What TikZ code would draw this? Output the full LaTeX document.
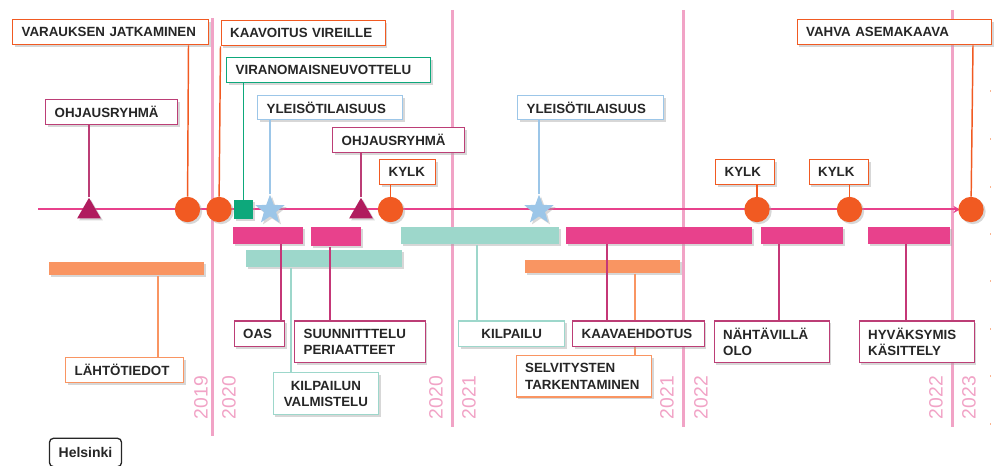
\documentclass[tikz,border=0pt]{standalone}
\usepackage{fontspec}
\setmainfont{Liberation Sans}
\usepackage{xcolor}
\usetikzlibrary{shapes.geometric,shadows,arrows.meta}

\definecolor{hOrange}{HTML}{F15A22}
\definecolor{hPeach}{HTML}{F99562}
\definecolor{hPink}{HTML}{E8418C}
\definecolor{hPlum}{HTML}{B01C5E}
\definecolor{hTeal}{HTML}{9DD7CB}
\definecolor{hGreen}{HTML}{0DA87B}
\definecolor{hBlue}{HTML}{9CC6E8}
\definecolor{hYear}{HTML}{F1A3C6}

\tikzset{
    softshadow/.style={drop shadow={shadow xshift=1.5pt,shadow yshift=-1.5pt,fill=black!35,opacity=0.45}},
    box/.style n args={3}{shape=rectangle,draw=#1,fill=white,line width=1pt,softshadow,anchor=north west,
        inner xsep=6.75pt,inner ysep=0pt,text width=(#2-18)*0.75pt,minimum height=#3*0.75pt,align=left,
        text=black!85,font=\fontsize{10}{12.2}\selectfont\bfseries},
    bar/.style n args={3}{shape=rectangle,fill=#1,inner sep=0pt,softshadow,anchor=north west,
        minimum width=#2*0.75pt,minimum height=#3*0.75pt},
    ball/.style={shape=circle,fill=hOrange,inner sep=0pt,minimum size=19pt,softshadow},
    tri/.style={shape=regular polygon,regular polygon sides=3,fill=hPlum,inner sep=0pt,minimum size=20.5pt,softshadow},
    starmark/.style={shape=star,star points=5,star point ratio=2.4,fill=hBlue,inner sep=0pt,minimum size=23pt,softshadow},
    year/.style={text=hYear,rotate=90,font=\fontsize{14.5}{14.5}\selectfont},
    wire/.style={line width=1.1pt,draw=#1},
    yearline/.style={line width=1.8pt,draw=hYear},
    speck/.style={shape=rectangle,fill=hPeach!70,inner sep=0pt,minimum width=1.2pt,minimum height=0.8pt}
}

\begin{document}
\begin{tikzpicture}[x=0.75pt,y=-0.75pt]
    \useasboundingbox (0,0) rectangle (1000,466);

    % year lines
    \coordinate (L1a) at (212.5,18);
    \coordinate (L1b) at (212.5,436);
    \coordinate (L2a) at (452.5,10);
    \coordinate (L2b) at (452.5,427);
    \coordinate (L3a) at (683.5,10);
    \coordinate (L3b) at (683.5,427);
    \coordinate (L4a) at (952.5,10);
    \coordinate (L4b) at (952.5,427);

    \path (L1a) edge[yearline] (L1b);
    \path (L2a) edge[yearline] (L2b);
    \path (L3a) edge[yearline] (L3b);
    \path (L4a) edge[yearline] (L4b);

    \node[year] (Y2019) at (201,397.5) {2019};
    \node[year] (Y2020a) at (229,397.5) {2020};
    \node[year] (Y2020b) at (436,397.5) {2020};
    \node[year] (Y2021a) at (469,397.5) {2021};
    \node[year] (Y2021b) at (667,397.5) {2021};
    \node[year] (Y2022a) at (701,397.5) {2022};
    \node[year] (Y2022b) at (936,397.5) {2022};
    \node[year] (Y2023) at (969,397.5) {2023};

    % time axis
    \coordinate (AxisA) at (38,209.5);
    \coordinate (AxisB) at (960,209.5);
    \path (AxisA) edge[line width=1.5pt, draw=hPink, -{Stealth[length=5pt,width=5.5pt]}] (AxisB);

    % markers
    \node[tri] (mOhjaus1) at (89,211.5) {};
    \node[tri] (mOhjaus2) at (361,211.5) {};
    \node[ball] (mVaraus) at (187.5,209.5) {};
    \node[ball] (mKaavoitus) at (219,209.5) {};
    \node[ball] (mKylk1) at (390.5,209.5) {};
    \node[ball] (mKylk2) at (757,209.5) {};
    \node[ball] (mKylk3) at (849.5,209.5) {};
    \node[ball] (mVahva) at (971,209.5) {};
    \node[shape=rectangle, fill=hGreen, inner sep=0pt, minimum size=14pt, softshadow] (mViran) at (243.5,209.5) {};
    \node[starmark] (mYleis1) at (270,210) {};
    \node[starmark] (mYleis2) at (539,210) {};

    % bars
    \node[bar={hPink}{70}{16.5}] (barOas) at (233,227) {};
    \node[bar={hPink}{50}{19}] (barSuun) at (311,227) {};
    \node[bar={hTeal}{158}{17}] (barKilp) at (401,227) {};
    \node[bar={hPink}{186}{16.5}] (barKaava) at (566,227) {};
    \node[bar={hPink}{82}{16.5}] (barNaht) at (761,227) {};
    \node[bar={hPink}{82}{16.5}] (barHyv) at (868,227) {};
    \node[bar={hTeal}{156.5}{17}] (barVal) at (245.5,250) {};
    \node[bar={hPeach}{155}{13}] (barLahto) at (48.5,262) {};
    \node[bar={hPeach}{155}{13}] (barSelv) at (525,260) {};

    % boxes above the axis
    \node[box={hOrange}{196}{25}] (bVaraus) at (12,19) {VARAUKSEN JATKAMINEN};
    \node[box={hOrange}{164}{25}] (bKaavoitus) at (220.5,20) {KAAVOITUS VIREILLE};
    \node[box={hGreen}{204}{25}] (bViran) at (226,57) {VIRANOMAISNEUVOTTELU};
    \node[box={hBlue}{145}{24}] (bYleis1) at (257,95) {YLEISÖTILAISUUS};
    \node[box={hPlum!85}{132}{25}] (bOhjaus1) at (45,99) {OHJAUSRYHMÄ};
    \node[box={hPlum!85}{132}{25}] (bOhjaus2) at (332,127) {OHJAUSRYHMÄ};
    \node[box={hOrange}{56}{25}] (bKylk1) at (379,159) {KYLK};
    \node[box={hBlue}{146}{24}] (bYleis2) at (517,95) {YLEISÖTILAISUUS};
    \node[box={hOrange}{59}{25}] (bKylk2) at (715,159) {KYLK};
    \node[box={hOrange}{59.5}{25}] (bKylk3) at (808.5,159) {KYLK};
    \node[box={hOrange}{194.5}{25}] (bVahva) at (796.5,19) {VAHVA ASEMAKAAVA};

    % boxes under the axis
    \node[box={hPlum!85}{50.5}{25.5}] (bOas) at (233.5,320.5) {OAS};
    \node[box={hPlum!85}{130.5}{41.5}] (bSuun) at (294,320.5) {SUUNNITTTELU\\PERIAATTEET};
    \node[box={hTeal}{105.5}{42}, align=center] (bVal) at (272.5,372) {KILPAILUN\\VALMISTELU};
    \node[box={hPeach}{118}{25}] (bLahto) at (65,357) {LÄHTÖTIEDOT};
    \node[box={hTeal}{106}{25.5}, align=center] (bKilp) at (458,320.5) {KILPAILU};
    \node[box={hPeach}{135.5}{41.5}] (bSelv) at (515.5,355) {SELVITYSTEN\\TARKENTAMINEN};

    \path (635,0 |- barSelv.south) edge[wire=hPeach] (635,0 |- bSelv.north);

    \node[box={hPlum!85}{131.5}{25.5}] (bKaava) at (572,320.5) {KAAVAEHDOTUS};
    \node[box={hPlum!85}{115}{41.5}] (bNaht) at (713.5,320.5) {NÄHTÄVILLÄ\\OLO};
    \node[box={hPlum!85}{115}{41.5}] (bHyv) at (858.5,320.5) {HYVÄKSYMIS\\KÄSITTELY};

    % connectors above the axis
    \path (mVaraus) edge[wire=hOrange] (188.5,0 |- bVaraus.south);
    \path (mKaavoitus) edge[wire=hOrange] (bKaavoitus.south west);
    \path (mKylk1) edge[wire=hOrange] (mKylk1 |- bKylk1.south);
    \path (mKylk2) edge[wire=hOrange] (mKylk2 |- bKylk2.south);
    \path (mKylk3) edge[wire=hOrange] (mKylk3 |- bKylk3.south);
    \path (mVahva) edge[wire=hOrange] (973,0 |- bVahva.south);
    \path (mViran) edge[line width=1.3pt, draw=hGreen] (mViran |- bViran.south);
    \path (mYleis1) edge[wire=hBlue] (mYleis1 |- bYleis1.south);
    \path (mYleis2) edge[wire=hBlue] (mYleis2 |- bYleis2.south);
    \path (mOhjaus1) edge[wire=hPlum!85] (mOhjaus1 |- bOhjaus1.south);
    \path (mOhjaus2) edge[wire=hPlum!85] (mOhjaus2 |- bOhjaus2.south);

    % connectors under the axis
    \path (281,0 |- barOas.south) edge[wire=hPink!85!black] (281,0 |- bOas.north);
    \path (330,0 |- barSuun.south) edge[wire=hPink!85!black] (330,0 |- bSuun.north);
    \path (291,0 |- barVal.south) edge[wire=hTeal] (291,0 |- bVal.north);
    \path (158,0 |- barLahto.south) edge[wire=hPeach] (158,0 |- bLahto.north);
    \path (477,0 |- barKilp.south) edge[wire=hTeal] (477,0 |- bKilp.north);
    \path (607,0 |- barKaava.south) edge[wire=hPink!85!black] (607,0 |- bKaava.north);
    \path (779,0 |- barNaht.south) edge[wire=hPink!85!black] (779,0 |- bNaht.north);
    \path (906,0 |- barHyv.south) edge[wire=hPink!85!black] (906,0 |- bHyv.north);

    % logo
    \node[shape=rectangle, draw=black!85, line width=1pt, rounded corners=3pt, fill=white, minimum width=54pt, minimum height=21.3pt,
        inner sep=0pt, font=\fontsize{10.5}{12}\selectfont\bfseries, text=black!85] (logo) at (85.5,452.5) {Helsinki};

    % specks at the right edge
    \node[speck] (s1) at (990.5,91) {};
    \node[speck] (s2) at (990.5,139) {};
    \node[speck] (s3) at (990.5,187) {};
    \node[speck] (s4) at (990.5,234) {};
    \node[speck] (s5) at (990.5,281) {};
    \node[speck] (s6) at (990.5,329) {};
    \node[speck] (s7) at (990.5,376) {};
    \node[speck] (s8) at (990.5,424) {};
\end{tikzpicture}
\end{document}
